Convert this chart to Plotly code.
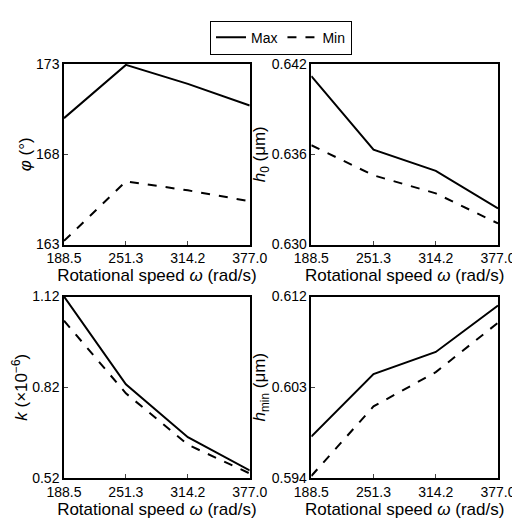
import plotly.graph_objects as go
from plotly.subplots import make_subplots

speeds = [188.5, 251.3, 314.2, 377.0]
tick_labels = ["188.5", "251.3", "314.2", "377.0"]
phi_max = [170.0, 172.95, 171.9, 170.7]
phi_min = [163.2, 166.5, 166.0, 165.4]
h0_max = [0.6412, 0.6363, 0.6349, 0.6324]
h0_min = [0.6366, 0.6346, 0.6334, 0.6314]
k_max = [1.12, 0.83, 0.655, 0.545]
k_min = [1.04, 0.80, 0.63, 0.535]
hmin_max = [0.5981, 0.6043, 0.6065, 0.6111]
hmin_min = [0.5942, 0.6011, 0.6045, 0.6094]

panels = [
    (phi_max, phi_min, [163, 173], [163, 168, 173], ["163", "168", "173"], "<i>φ</i> (°)"),
    (h0_max, h0_min, [0.630, 0.642], [0.630, 0.636, 0.642], ["0.630", "0.636", "0.642"], "<i>h</i><sub>0</sub> (μm)"),
    (k_max, k_min, [0.52, 1.12], [0.52, 0.82, 1.12], ["0.52", "0.82", "1.12"], "<i>k</i> (×10<sup>−6</sup>)"),
    (hmin_max, hmin_min, [0.594, 0.612], [0.594, 0.603, 0.612], ["0.594", "0.603", "0.612"], "<i>h</i><sub>min</sub> (μm)"),
]

fig = make_subplots(rows=2, cols=2)
xdoms = [[0, 196 / 458], [261 / 458, 1]]
ydoms = [[1 - 184 / 422, 1], [0, 185 / 422]]
for i, (mx, mn, rng, tv, tt, title) in enumerate(panels):
    r, c = i // 2 + 1, i % 2 + 1
    fig.add_trace(go.Scatter(x=speeds, y=mx, mode="lines", name="Max", line=dict(color="black", width=2),
                             showlegend=(i == 0)), row=r, col=c)
    fig.add_trace(go.Scatter(x=speeds, y=mn, mode="lines", name="Min", line=dict(color="black", width=2, dash="dash"),
                             showlegend=(i == 0)), row=r, col=c)
    fig.update_yaxes(range=rng, tickvals=tv, ticktext=tt, domain=ydoms[r - 1],
                     title=dict(text=title, standoff=0), row=r, col=c)
    fig.update_xaxes(range=[188.5, 377.0], tickvals=speeds, ticktext=tick_labels, domain=xdoms[c - 1],
                     title=dict(text="Rotational speed <i>ω</i> (rad/s)", standoff=0), row=r, col=c)

fig.update_xaxes(showline=True, mirror=True, linecolor="black", linewidth=1.5, ticks="inside",
                 ticklen=4, showgrid=False, zeroline=False)
fig.update_yaxes(showline=True, mirror=True, linecolor="black", linewidth=1.5, ticks="inside",
                 ticklen=4, showgrid=False, zeroline=False)
fig.update_layout(
    width=520, height=520, paper_bgcolor="white", plot_bgcolor="white",
    font=dict(family="Liberation Sans", size=14, color="black"),
    margin=dict(l=49, r=13, t=48, b=50),
    legend=dict(orientation="h", x=0.5, xanchor="center", y=1.105, yanchor="top",
                bordercolor="black", borderwidth=1, font=dict(size=14)),
)
fig.write_html("out.html")
